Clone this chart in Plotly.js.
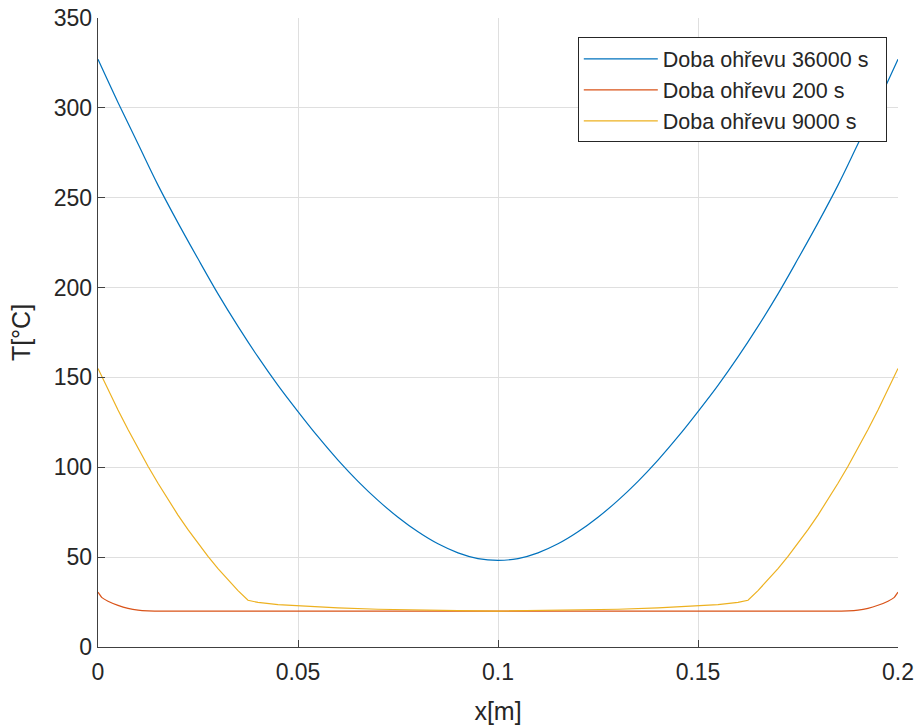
<!DOCTYPE html>
<html>
<head>
<meta charset="utf-8">
<script src="https://cdn.plot.ly/plotly-3.0.1.min.js"></script>
<style>html,body{margin:0;padding:0;background:#fff;}#chart{width:917px;height:728px;}</style>
</head>
<body>
<div id="chart"></div>
<script>
// Doba ohřevu 36000 s
const xBlue = [0,0.005,0.01,0.015,0.02,0.025,0.03,0.035,0.04,0.045,0.05,0.055,0.06,0.065,0.07,0.075,0.08,0.085,0.09,0.095,0.1,
  0.105,0.11,0.115,0.12,0.125,0.13,0.135,0.14,0.145,0.15,0.155,0.16,0.165,0.17,0.175,0.18,0.185,0.19,0.195,0.2];
const tBlue = [327,303,280,257,236,216,196.5,178.4,161.4,145.6,131,117,104,92.2,81.6,72.2,64.1,57.4,52.4,49.2,48.2,
  49.2,52.4,57.4,64.1,72.2,81.6,92.2,104,117,131,145.6,161.4,178.4,196.5,216,236,257,280,303,327];

// Doba ohřevu 200 s
const xRed = [0,0.001,0.0025,0.005,0.0075,0.01,0.0125,0.015,0.1,0.185,0.1875,0.19,0.1925,0.195,0.1975,0.199,0.2];
const tRed = [30.5,27.5,25.5,23.2,21.5,20.5,20.1,20,20,20,20.1,20.5,21.5,23.2,25.5,27.5,30.5];

// Doba ohřevu 9000 s
const xYellow = [0,0.0025,0.005,0.0075,0.01,0.0125,0.015,0.0175,0.02,0.0225,0.025,0.0275,0.03,0.0325,0.035,0.0375,
  0.04,0.045,0.05,0.06,0.07,0.08,0.09,0.1,0.11,0.12,0.13,0.14,0.15,0.155,0.16,
  0.1625,0.165,0.1675,0.17,0.1725,0.175,0.1775,0.18,0.1825,0.185,0.1875,0.19,0.1925,0.195,0.1975,0.2];
const tYellow = [155,143.2,131.9,121,110.5,100.6,91.1,82,73.4,65.3,57.6,50.4,43.6,37.3,31.4,26,
  24.8,23.6,22.9,21.8,21,20.5,20.2,20,20.2,20.5,21,21.8,22.9,23.6,24.8,
  26,31.4,37.3,43.6,50.4,57.6,65.3,73.4,82,91.1,100.6,110.5,121,131.9,143.2,155];

const seriesNames = ['Doba ohřevu 36000 s','Doba ohřevu 200 s','Doba ohřevu 9000 s'];
const xTicks = [0,0.05,0.1,0.15,0.2];
const xTickText = ['0','0.05','0.1','0.15','0.2'];
const yTicks = [0,50,100,150,200,250,300,350];

const FONT = 'Liberation Sans, Arial, Helvetica, sans-serif';
const PAD = '\u00a0\u00a0';
const traces = [
  {x:xBlue, y:tBlue, name:seriesNames[0] + PAD, mode:'lines', line:{color:'#0072BD', width:1.2, shape:'spline', smoothing:1}},
  {x:xRed, y:tRed, name:seriesNames[1] + PAD, mode:'lines', line:{color:'#D95319', width:1.2, shape:'spline', smoothing:0.6}},
  {x:xYellow, y:tYellow, name:seriesNames[2] + PAD, mode:'lines', line:{color:'#EDB120', width:1.2}}
];

const layout = {
  width:917, height:728,
  margin:{l:98, r:19, t:17.5, b:80.5, pad:0},
  paper_bgcolor:'#fff', plot_bgcolor:'#fff',
  font:{family:FONT, color:'#262626'},
  showlegend:true,
  legend:{x:0.986, xanchor:'right', y:0.969, yanchor:'top', bgcolor:'#fff', bordercolor:'#262626', borderwidth:1,
    font:{family:FONT, size:21.5, color:'#262626'}, tracegroupgap:0, itemwidth:74},
  xaxis:{range:[0,0.2], tickvals:xTicks, ticktext:xTickText, showgrid:true, gridcolor:'#dfdfdf', gridwidth:1,
    zeroline:false, showline:true, linecolor:'#404040', linewidth:1.3, ticks:'inside', ticklen:7, tickcolor:'#404040',
    tickfont:{family:FONT, size:23, color:'#262626'}, ticklabelstandoff:4,
    title:{text:'x[m]', font:{family:FONT, size:25, color:'#262626'}, standoff:18}, automargin:false, fixedrange:true},
  yaxis:{range:[0,350], tickvals:yTicks, showgrid:true, gridcolor:'#dfdfdf', gridwidth:1,
    zeroline:false, showline:true, linecolor:'#404040', linewidth:1.3, ticks:'inside', ticklen:7, tickcolor:'#404040',
    tickfont:{family:FONT, size:23, color:'#262626'},
    title:{text:'T[°C]', font:{family:FONT, size:25, color:'#262626'}, standoff:16}, automargin:false, fixedrange:true}
};
Plotly.newPlot('chart', traces, layout, {staticPlot:true, displayModeBar:false});
</script>
</body>
</html>
